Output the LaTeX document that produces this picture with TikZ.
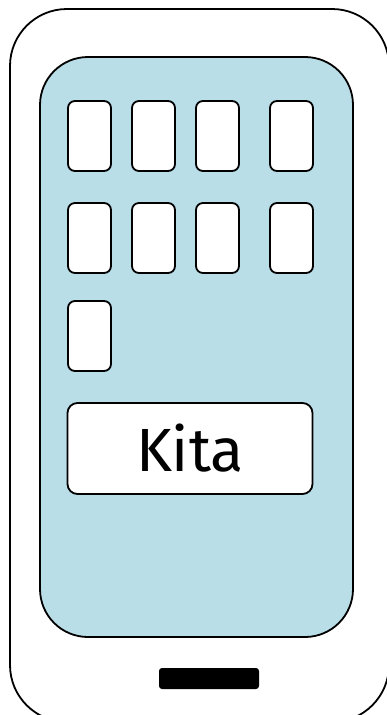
\documentclass[tikz,border=0pt]{standalone}
\usepackage{fontspec}
\newfontfamily\labelfont{Fira Sans}
\definecolor{screenblue}{RGB}{185,222,232}
\begin{document}
\begin{tikzpicture}[x=1pt, y=-1pt, line width=1.8pt]
\useasboundingbox (0,0) rectangle (387,715);
\clip (0,0) rectangle (387,715);
\draw[rounded corners=57](10,9) rectangle (389,722);
\draw[fill=screenblue, rounded corners=48](40,57) rectangle (353,637);

\foreach \x in {68,132,196,270}{
  \draw[fill=white, rounded corners=7](\x,101) rectangle ++(43,70);
  \draw[fill=white, rounded corners=7](\x,203) rectangle ++(43,70);
}
\draw[fill=white, rounded corners=7](68,301) rectangle ++(43,70);

\node[draw, line width=1.8pt, fill=white, rounded corners=10, minimum width=245, minimum height=91,
  font=\labelfont\fontsize{61}{61}\selectfont] (kita) at (190,448.5) {Kita};

\fill[rounded corners=3](159,668) rectangle (259,689);
\end{tikzpicture}
\end{document}
